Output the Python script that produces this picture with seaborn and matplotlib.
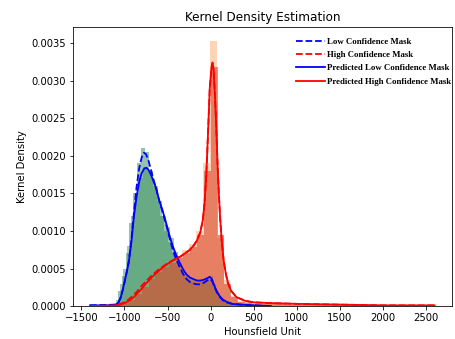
import numpy as np
import pandas as pd
import matplotlib
matplotlib.use("Agg")
import matplotlib.pyplot as plt
import seaborn as sns

# histogram bars: bin centers + heights (density)
low_width = 45
low_centers = [-1100, -1055, -1010, -965, -920, -875, -830, -785, -740, -695,
               -650, -605, -560, -515, -470, -425, -380, -335, -290, -245,
               -200, -155, -110, -65, -20, 25, 70, 115, 160, 205, 250, 295]
low_heights = [0.00003, 0.0002, 0.0004, 0.0007, 0.0011, 0.0015, 0.0019, 0.0021, 0.00205, 0.0018,
               0.0016, 0.0014, 0.0012, 0.001, 0.00085, 0.0007, 0.00055, 0.00045, 0.0004, 0.00035,
               0.00032, 0.0003, 0.00032, 0.00035, 0.00038, 0.0003, 0.0002, 0.00012, 0.00007, 0.00004, 0.00002, 0.00001]

pred_low_centers = [-1080, -1035, -990, -945, -900, -855, -810, -765, -720, -675,
                    -630, -585, -540, -495, -450, -405, -360, -315, -270, -225,
                    -180, -135, -90, -45, 0, 45, 90, 135, 180, 225, 270, 315]
pred_low_heights = [0.00008, 0.0003, 0.0005, 0.0008, 0.0012, 0.0015, 0.0017, 0.00185, 0.0018, 0.0017,
                    0.0016, 0.0014, 0.0012, 0.00105, 0.0009, 0.00072, 0.00058, 0.00048, 0.00042, 0.00038,
                    0.00036, 0.00034, 0.00034, 0.00036, 0.0004, 0.0003, 0.00018, 0.0001, 0.00006, 0.00003, 0.00002, 0.00001]

high_width = 80
high_centers = [-1410, -1330, -1250, -1170, -1090, -1010, -930, -850, -770, -690,
                -610, -530, -450, -370, -290, -210, -130, -50, 30, 110,
                190, 270, 350, 430, 510, 590, 670, 750, 830, 910,
                990, 1070, 1150, 1230, 1310, 1390, 1470, 1550, 1630, 1710,
                1790, 1870, 1950, 2030, 2110, 2190, 2270, 2350, 2430, 2510]
high_heights = [0, 0, 0, 0.00001, 0.00002, 0.00005, 0.0001, 0.00018, 0.00028, 0.00038,
                0.00047, 0.00054, 0.0006, 0.00067, 0.00074, 0.00082, 0.001, 0.0019, 0.00353, 0.0009,
                0.00035, 0.00014, 0.00007, 0.00005, 0.00004, 0.00003, 0.00003, 0.00003, 0.00003, 0.00003,
                0.00003, 0.00002, 0.00002, 0.00002, 0.00002, 0.00002, 0.00002, 0.00002, 0.00002, 0.00002,
                0.00002, 0.00002, 0.00002, 0.00001, 0.00001, 0.00001, 0.00001, 0.00001, 0.00001, 0.00001]

pred_high_centers = [-1400, -1320, -1240, -1160, -1080, -1000, -920, -840, -760, -680,
                     -600, -520, -440, -360, -280, -200, -120, -40, 40, 120,
                     200, 280, 360, 440, 520, 600, 680, 760, 840, 920,
                     1000, 1080, 1160, 1240, 1320, 1400, 1480, 1560, 1640, 1720,
                     1800, 1880, 1960, 2040, 2120, 2200, 2280, 2360, 2440, 2520]
pred_high_heights = [0, 0, 0, 0.00001, 0.00002, 0.00004, 0.00008, 0.00016, 0.00026, 0.00036,
                     0.00045, 0.00052, 0.00058, 0.00064, 0.0007, 0.00078, 0.00095, 0.0018, 0.00318, 0.00095,
                     0.0003, 0.00012, 0.00006, 0.00004, 0.00003, 0.00003, 0.00003, 0.00003, 0.00003, 0.00002,
                     0.00002, 0.00002, 0.00002, 0.00002, 0.00002, 0.00002, 0.00002, 0.00002, 0.00002, 0.00002,
                     0.00001, 0.00001, 0.00001, 0.00001, 0.00001, 0.00001, 0.00001, 0.00001, 0.00001, 0.00001]

# KDE curves
low_x = [-1400, -1100, -1070, -1040, -1010, -980, -950, -920, -890, -860, -830, -800, -775, -750,
         -720, -690, -660, -630, -600, -560, -520, -480, -440, -400, -360, -320, -280, -240,
         -200, -160, -120, -80, -40, -10, 15, 40, 70, 100, 140, 180, 250, 350, 500, 700]
low_y = [0.00001, 0.00002, 0.00005, 0.00012, 0.00026, 0.00042, 0.0006, 0.00088, 0.00125, 0.00158, 0.00183, 0.00198, 0.00204, 0.00202,
         0.00193, 0.0018, 0.00167, 0.00155, 0.00141, 0.00126, 0.0011, 0.00092, 0.00075, 0.00062, 0.00052, 0.00043, 0.00036, 0.00032,
         0.0003, 0.00029, 0.00029, 0.00031, 0.00034, 0.00036, 0.00034, 0.00027, 0.00019, 0.00013, 0.00008, 0.00005, 0.00003, 0.00002, 0.00001, 0.0]

pred_low_x = [-1400, -1200, -1100, -1070, -1040, -1010, -980, -950, -920, -890, -860, -830, -800, -770,
              -745, -720, -690, -660, -630, -600, -560, -520, -480, -440, -400, -360, -320, -280,
              -240, -200, -160, -120, -80, -40, -10, 15, 40, 70, 100, 140, 180, 250, 350, 500, 700]
pred_low_y = [0.00001, 0.00001, 0.00002, 0.00005, 0.00013, 0.00027, 0.00042, 0.00058, 0.00085, 0.0012, 0.00145, 0.00165, 0.00177, 0.00183,
              0.00184, 0.00181, 0.00174, 0.00165, 0.00156, 0.00142, 0.00128, 0.00112, 0.00095, 0.0008, 0.00068, 0.00058, 0.00049, 0.00042,
              0.00038, 0.00036, 0.00034, 0.00034, 0.00035, 0.00037, 0.00039, 0.00036, 0.00028, 0.0002, 0.00014, 0.00009, 0.00006, 0.00003, 0.00002, 0.00001, 0.0]

high_x = [-1400, -1100, -1050, -1000, -950, -900, -850, -800, -750, -700, -650, -600, -550, -500,
          -450, -400, -350, -300, -250, -200, -160, -120, -90, -70, -50, -30, -10, 10, 22, 35,
          50, 65, 80, 95, 110, 130, 150, 175, 200, 240, 300, 400, 500, 700, 1000, 1500, 2000, 2600]
high_y = [0, 0.00001, 0.00003, 0.00005, 0.00009, 0.00014, 0.0002, 0.00027, 0.00033, 0.00039, 0.00044, 0.00049, 0.00053, 0.00057,
          0.0006, 0.00063, 0.00066, 0.0007, 0.00074, 0.0008, 0.00087, 0.00098, 0.00115, 0.00138, 0.00175, 0.0023, 0.0029, 0.00315, 0.0032, 0.00312,
          0.0028, 0.0024, 0.0019, 0.0015, 0.00118, 0.00085, 0.00062, 0.00044, 0.00031, 0.0002, 0.00012, 0.00007, 0.00005, 0.00004, 0.00003, 0.00002, 0.00001, 0.00001]

pred_high_x = high_x
pred_high_y = [0, 0.00001, 0.00002, 0.00004, 0.00007, 0.00011, 0.00017, 0.00023, 0.0003, 0.00036, 0.00042, 0.00047, 0.00052, 0.00056,
               0.0006, 0.00063, 0.00066, 0.0007, 0.00074, 0.0008, 0.00087, 0.00098, 0.00115, 0.00138, 0.00175, 0.0023, 0.0029, 0.00318, 0.00324, 0.00315,
               0.0028, 0.0024, 0.0019, 0.0015, 0.00118, 0.00085, 0.00062, 0.00044, 0.00031, 0.0002, 0.00012, 0.00007, 0.00005, 0.00004, 0.00003, 0.00002, 0.00001, 0.00001]

x_ticks = [-1500, -1000, -500, 0, 500, 1000, 1500, 2000, 2500]
y_ticks = [0.0, 0.0005, 0.001, 0.0015, 0.002, 0.0025, 0.003, 0.0035]


def bin_edges(centers, width):
    return [c - width / 2 for c in centers] + [centers[-1] + width / 2]


fig = plt.figure(figsize=(455 / 72, 339 / 72), dpi=72)
ax = fig.add_axes([0.16, 0.097, 0.833, 0.823])

# layer order: low, high, predicted low, predicted high
sns.histplot(x=low_centers, weights=low_heights, bins=bin_edges(low_centers, low_width),
             color="#2e8b57", alpha=0.5, linewidth=0, ax=ax)
sns.histplot(x=high_centers, weights=high_heights, bins=bin_edges(high_centers, high_width),
             color="#fdb27c", alpha=0.55, linewidth=0, ax=ax)
sns.histplot(x=pred_low_centers, weights=pred_low_heights, bins=bin_edges(pred_low_centers, low_width),
             color="#2e8b57", alpha=0.45, linewidth=0, ax=ax)
sns.histplot(x=pred_high_centers, weights=pred_high_heights, bins=bin_edges(pred_high_centers, high_width),
             color="#d9482b", alpha=0.6, linewidth=0, ax=ax)

sns.lineplot(x=low_x, y=low_y, color="blue", lw=1.8, ls="--", label="Low Confidence Mask", ax=ax)
sns.lineplot(x=high_x, y=high_y, color="red", lw=1.8, ls="--", label="High Confidence Mask", ax=ax)
sns.lineplot(x=pred_low_x, y=pred_low_y, color="blue", lw=1.8, label="Predicted Low Confidence Mask", ax=ax)
sns.lineplot(x=pred_high_x, y=pred_high_y, color="red", lw=1.8, label="Predicted High Confidence Mask", ax=ax)

ax.set_xlim(-1600, 2800)
ax.set_ylim(0, 0.00371)
ax.set_xticks(x_ticks)
ax.set_yticks(y_ticks)
ax.set_yticklabels([f"{v:.4f}" for v in y_ticks])
ax.set_xlabel("Hounsfield Unit")
ax.set_ylabel("Kernel Density")
ax.set_title("Kernel Density Estimation")

ax.legend(loc="upper right", bbox_to_anchor=(1.02, 0.99), frameon=False,
          prop={"family": "Liberation Serif", "weight": "bold", "size": 8.7},
          handlelength=3.3, labelspacing=0.6, handletextpad=0.3)

fig.savefig("out.png", dpi=72)
